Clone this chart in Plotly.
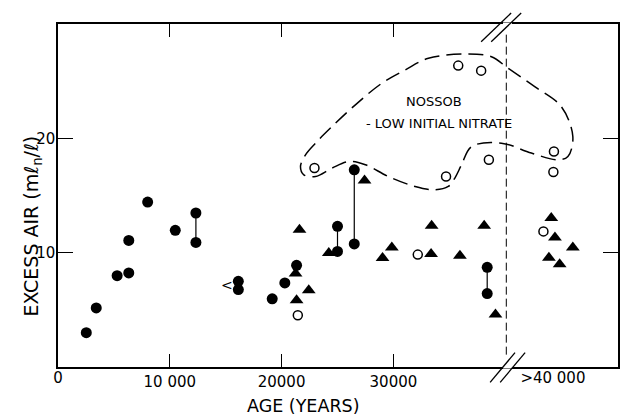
import plotly.graph_objects as go

# ---------------- data ----------------
FILLED_X = [2530, 3420, 5290, 6330, 6330, 8020, 10490, 12335, 12335, 16130, 16130,
            19160, 20290, 21340, 25000, 25000, 26500, 26500, 38390, 38390]
FILLED_Y = [3.0, 5.17, 7.99, 8.23, 11.07, 14.43, 11.95, 13.47, 10.9, 7.49, 6.77,
            5.96, 7.35, 8.89, 12.3, 10.11, 17.25, 10.76, 8.72, 6.42]

TRI_X = [21250, 21340, 21600, 22430, 24220, 27420, 29030, 29860, 33370, 33420,
         35950, 38120, 39130, 43910, 44120, 44450, 44870, 46050]
TRI_Y = [8.17, 5.83, 12.0, 6.71, 9.97, 16.31, 9.54, 10.46, 9.89, 12.36,
         9.74, 12.36, 4.59, 9.56, 13.03, 11.33, 8.98, 10.45]

OPEN_X = [21450, 22940, 32180, 34710, 35800, 37850, 38540, 43420, 44310, 44360]
OPEN_Y = [4.52, 17.4, 9.83, 16.66, 26.36, 25.92, 18.12, 11.86, 17.05, 18.85]

# paired samples joined by a vertical bar
LINK_X = [12335, 25000, 26500, 38390]
LINK_Y_LOW = [10.9, 10.11, 10.76, 6.42]
LINK_Y_HIGH = [13.47, 12.3, 17.25, 8.72]

# "<" marker next to a sample
LESS_X = [15150]
LESS_Y = [7.2]

# dashed outline around the Nossob group
OUTLINE_X = [21690, 22140, 23030, 24510, 26600, 28970, 31050, 33130, 36400, 38770,
             40260, 42640, 45010, 46050, 45610, 44720, 42340, 39660, 36990, 36100,
             35510, 34910, 33730, 31940, 29560, 27490, 26000, 24510, 23030, 21990]
OUTLINE_Y = [17.54, 18.56, 19.58, 21.03, 22.93, 24.82, 25.98, 27.0, 27.38, 27.14,
             26.13, 24.52, 22.78, 20.16, 18.41, 18.12, 18.71, 19.58, 19.28, 17.69,
             16.55, 15.79, 15.5, 15.79, 16.66, 17.69, 17.97, 17.4, 16.66, 16.81]

X_TICK_VALS = [10000, 20000, 30000]
X_TICK_TEXT = ["10 000", "20000", "30000"]
X_EXTRA_VALS = [0, 44270]
X_EXTRA_TEXT = ["0", ">40 000"]
Y_TICK_VALS = [10, 20]
Y_TICK_TEXT = ["10", "20"]

BREAK_X = 40100
X_RANGE = [0, 50090]
Y_RANGE = [0, 30]

FONT = "DejaVu Sans"
BLACK = "black"

fig = go.Figure()

# vertical links between paired samples
lx, ly = [], []
for x, y0, y1 in zip(LINK_X, LINK_Y_LOW, LINK_Y_HIGH):
    lx += [x, x, None]
    ly += [y0, y1, None]
fig.add_trace(go.Scatter(x=lx, y=ly, mode="lines", line=dict(color=BLACK, width=1.2),
                         hoverinfo="skip", showlegend=False))

# Nossob outline
fig.add_trace(go.Scatter(x=OUTLINE_X + OUTLINE_X[:1], y=OUTLINE_Y + OUTLINE_Y[:1],
                         mode="lines",
                         line=dict(color=BLACK, width=1.5, dash="15px,7px",
                                   shape="spline", smoothing=1.0),
                         hoverinfo="skip", showlegend=False))

fig.add_trace(go.Scatter(x=TRI_X, y=TRI_Y, mode="markers",
                         marker=dict(symbol="triangle-up", size=12, color=BLACK,
                                     line=dict(width=0)),
                         showlegend=False))
fig.add_trace(go.Scatter(x=FILLED_X, y=FILLED_Y, mode="markers",
                         marker=dict(symbol="circle", size=11, color=BLACK,
                                     line=dict(width=0)),
                         showlegend=False))
fig.add_trace(go.Scatter(x=OPEN_X, y=OPEN_Y, mode="markers",
                         marker=dict(symbol="circle", size=9, color="white",
                                     line=dict(width=1.5, color=BLACK)),
                         showlegend=False))
# invisible trace to carry the extra tick-label axis
fig.add_trace(go.Scatter(x=X_EXTRA_VALS, y=[None] * len(X_EXTRA_VALS), xaxis="x2",
                         mode="markers", showlegend=False, hoverinfo="skip"))

for x, y in zip(LESS_X, LESS_Y):
    fig.add_annotation(x=x, y=y, text="<", showarrow=False,
                       font=dict(family=FONT, size=14, color=BLACK))

fig.add_annotation(x=33600, y=23.2, text="NOSSOB", showarrow=False,
                   font=dict(family=FONT, size=13, color=BLACK))
fig.add_annotation(x=34100, y=21.3, text="- LOW INITIAL NITRATE", showarrow=False,
                   font=dict(family=FONT, size=13, color=BLACK))

# axis titles
fig.add_annotation(xref="paper", yref="paper", x=-0.072, y=0.41,
                   text="EXCESS AIR (mℓ<sub>n</sub>/ℓ)", textangle=-90, showarrow=False,
                   font=dict(family=FONT, size=19, color=BLACK))
fig.add_annotation(xref="paper", yref="paper", x=0.438, y=-0.148, yanchor="bottom",
                   text="AGE (YEARS)", showarrow=False,
                   font=dict(family=FONT, size=17.5, color=BLACK))

shapes = []
# dashed vertical line at the break
shapes.append(dict(type="line", xref="x", yref="paper", x0=BREAK_X, x1=BREAK_X,
                   y0=0.036, y1=0.974, line=dict(color=BLACK, width=1, dash="8px,4px")))
# gaps in the frame at the break
for yp in (0, 1):
    shapes.append(dict(type="line", xref="x", yref="paper", x0=BREAK_X - 300,
                       x1=BREAK_X + 500, y0=yp, y1=yp, line=dict(color="white", width=3)))
# break slashes (bottom and top)
for dx in (0, 900):
    shapes.append(dict(type="line", xref="x", yref="paper",
                       x0=38650 + dx, x1=40880 + dx, y0=-0.045, y1=0.042,
                       line=dict(color=BLACK, width=1.3)))
    shapes.append(dict(type="line", xref="x", yref="paper",
                       x0=37850 + dx, x1=40530 + dx, y0=0.948, y1=1.032,
                       line=dict(color=BLACK, width=1.3)))

fig.update_layout(
    width=620, height=417, autosize=False,
    margin=dict(l=58, r=0, t=24, b=50),
    paper_bgcolor="white", plot_bgcolor="white",
    font=dict(family=FONT, color=BLACK),
    shapes=shapes,
    xaxis=dict(range=X_RANGE, tickvals=X_TICK_VALS, ticktext=X_TICK_TEXT,
               ticks="inside", ticklen=13, tickwidth=1.3, tickcolor=BLACK,
               showline=True, linecolor=BLACK, linewidth=1.5, mirror="ticks",
               showgrid=False, zeroline=False,
               tickfont=dict(family=FONT, size=15, color=BLACK)),
    xaxis2=dict(range=X_RANGE, overlaying="x", side="bottom", anchor="y",
                tickvals=X_EXTRA_VALS, ticktext=X_EXTRA_TEXT, ticks="",
                showline=False, showgrid=False, zeroline=False,
                tickfont=dict(family=FONT, size=15, color=BLACK)),
    yaxis=dict(range=Y_RANGE, tickvals=Y_TICK_VALS, ticktext=Y_TICK_TEXT,
               ticks="inside", ticklen=15, tickwidth=1.3, tickcolor=BLACK,
               ticklabelstandoff=-2,
               showline=True, linecolor=BLACK, linewidth=1.5, mirror="ticks",
               showgrid=False, zeroline=False,
               tickfont=dict(family=FONT, size=15, color=BLACK)),
)

fig.write_html("out.html")
